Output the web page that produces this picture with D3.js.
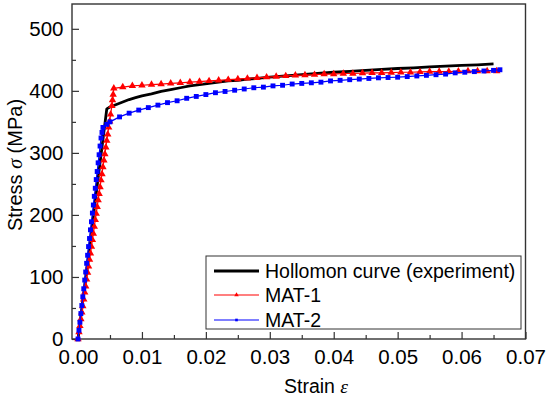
<!DOCTYPE html>
<html>
<head>
<meta charset="utf-8">
<script src="https://cdn.jsdelivr.net/npm/d3@7"></script>
<style>
  body { margin: 0; background: #fff; }
  svg { display: block; }
  text { font-family: "Liberation Sans", Arial, sans-serif; fill: #000; }
</style>
</head>
<body>
<div id="chart"></div>
<script>
// Hollomon curve (experiment): [strain, stress MPa]
const hollomon = [
  [0, 0], [0.0045, 371], [0.005, 374], [0.006, 378], [0.007, 382], [0.008, 386],
  [0.009, 389], [0.010, 392], [0.0115, 395], [0.013, 399], [0.0145, 402],
  [0.016, 405], [0.0175, 408], [0.019, 410], [0.0205, 412], [0.022, 414],
  [0.0235, 416], [0.025, 417], [0.0265, 419], [0.028, 420], [0.030, 422],
  [0.0325, 424], [0.035, 426], [0.0375, 428], [0.040, 430], [0.0425, 431.5],
  [0.045, 433], [0.0475, 434.5], [0.050, 436], [0.0525, 437], [0.055, 438.5],
  [0.0575, 440], [0.060, 441], [0.0625, 442], [0.065, 443.5]
];

// MAT-1 (red triangles)
const mat1 = [
  [0, 0], [0.00015, 11], [0.0003, 21], [0.00045, 32], [0.0006, 43], [0.00075, 53],
  [0.0009, 64], [0.00105, 75], [0.0012, 85], [0.00135, 96], [0.0015, 107],
  [0.00165, 117], [0.0018, 128], [0.00195, 138], [0.0021, 149], [0.00225, 160],
  [0.0024, 170], [0.00255, 181], [0.0027, 192], [0.00285, 202], [0.003, 213],
  [0.00315, 224], [0.0033, 234], [0.00345, 245], [0.0036, 256], [0.00375, 266],
  [0.0039, 277], [0.00405, 288], [0.0042, 298], [0.00435, 309], [0.0045, 320],
  [0.00465, 330], [0.0048, 341], [0.00495, 351], [0.0051, 362], [0.0053, 376],
  [0.0054, 385], [0.0055, 394], [0.0056, 404],
  [0.007, 406], [0.0085, 408], [0.010, 409], [0.0115, 410], [0.013, 411],
  [0.0145, 412], [0.016, 413], [0.0175, 414], [0.019, 415], [0.0205, 416],
  [0.022, 417], [0.0235, 418], [0.025, 419], [0.0265, 420], [0.028, 421],
  [0.0295, 422], [0.031, 423], [0.0325, 424], [0.034, 425], [0.0355, 425.5],
  [0.037, 426], [0.0385, 427], [0.040, 427], [0.0415, 428], [0.043, 428],
  [0.0445, 428.5], [0.046, 429], [0.0475, 429], [0.049, 429.5], [0.0505, 430],
  [0.052, 430], [0.0535, 430.5], [0.055, 431], [0.0565, 431], [0.058, 431],
  [0.0595, 431.5], [0.061, 432], [0.0625, 432], [0.064, 432], [0.0655, 432]
];

// MAT-2 (blue squares)
const mat2 = [
  [0, 0], [0.00015, 14], [0.0003, 27], [0.00045, 41], [0.0006, 54], [0.00075, 68],
  [0.0009, 81], [0.00105, 95], [0.0012, 108], [0.00135, 122], [0.0015, 135],
  [0.00165, 149], [0.0018, 162], [0.00195, 176], [0.0021, 189], [0.00225, 203],
  [0.0024, 216], [0.00255, 230], [0.0027, 243], [0.00285, 257], [0.003, 270],
  [0.00315, 284], [0.0033, 297], [0.00345, 311], [0.0036, 324], [0.00375, 333],
  [0.0039, 341],
  [0.0045, 346], [0.005, 350], [0.0065, 358], [0.008, 364], [0.0095, 369],
  [0.011, 373], [0.0125, 377], [0.014, 381], [0.0155, 384], [0.017, 388],
  [0.0185, 391], [0.020, 394], [0.0215, 397], [0.023, 399], [0.0245, 401],
  [0.026, 403], [0.0275, 405], [0.029, 406], [0.0305, 408], [0.032, 409],
  [0.0335, 411], [0.035, 412], [0.0365, 413], [0.038, 414], [0.0395, 416],
  [0.041, 417], [0.0425, 418], [0.044, 419], [0.0455, 420], [0.047, 421],
  [0.0485, 421.5], [0.050, 422], [0.0515, 423], [0.053, 424], [0.0545, 425],
  [0.056, 426], [0.0575, 427], [0.059, 429], [0.0605, 430], [0.062, 431],
  [0.0635, 432], [0.065, 433], [0.066, 434]
];

const xTicks = [0, 0.01, 0.02, 0.03, 0.04, 0.05, 0.06, 0.07];
const xMinor = [0.005, 0.015, 0.025, 0.035, 0.045, 0.055, 0.065];
const yTicks = [0, 100, 200, 300, 400, 500];
const yMinor = [50, 150, 250, 350, 450];

const legendNames = ['Hollomon curve (experiment)', 'MAT-1', 'MAT-2'];
const colors = ['#000000', '#ff0000', '#0000ff'];

const width = 550;
const height = 398;
const plot = { left: 72, right: 525.5, top: 4, bottom: 339 };

const svg = d3.select('#chart').append('svg')
    .attr('width', width)
    .attr('height', height);

svg.append('rect')
    .attr('width', width)
    .attr('height', height)
    .attr('fill', '#fff');

const xScale = d3.scaleLinear()
    .domain([-0.00094, 0.07])
    .range([plot.left, plot.right]);

const yScale = d3.scaleLinear()
    .domain([0, 540])
    .range([plot.bottom, plot.top]);

// minor ticks (inside)
svg.append('g')
    .attr('transform', `translate(0, ${plot.bottom})`)
    .call(d3.axisBottom(xScale).tickValues(xMinor).tickSize(-4).tickFormat(''))
    .call(g => g.select('.domain').remove());

svg.append('g')
    .attr('transform', `translate(${plot.left}, 0)`)
    .call(d3.axisLeft(yScale).tickValues(yMinor).tickSize(-4).tickFormat(''))
    .call(g => g.select('.domain').remove());

// major ticks + labels
const xAxis = svg.append('g')
    .attr('transform', `translate(0, ${plot.bottom})`)
    .call(d3.axisBottom(xScale).tickValues(xTicks).tickSize(-7).tickPadding(10.5)
      .tickFormat(d3.format('.2f')));
xAxis.select('.domain').remove();

const yAxis = svg.append('g')
    .attr('transform', `translate(${plot.left}, 0)`)
    .call(d3.axisLeft(yScale).tickValues(yTicks).tickSize(-7).tickPadding(8.5));
yAxis.select('.domain').remove();

svg.selectAll('.tick line')
    .attr('stroke', '#333')
    .attr('stroke-width', 1.2);

svg.selectAll('.tick text')
    .attr('font-size', '20.5px')
    .attr('fill', '#000');

// frame
svg.append('rect')
    .attr('x', plot.left)
    .attr('y', plot.top)
    .attr('width', plot.right - plot.left)
    .attr('height', plot.bottom - plot.top)
    .attr('fill', 'none')
    .attr('stroke', '#333')
    .attr('stroke-width', 1.4);

const line = d3.line()
    .x(d => xScale(d[0]))
    .y(d => yScale(d[1]));

const chartContainer = svg.append('g').attr('class', 'chart-container');

// Hollomon
chartContainer.append('path')
    .datum(hollomon)
    .attr('d', line)
    .attr('fill', 'none')
    .attr('stroke', colors[0])
    .attr('stroke-width', 2.8)
    .attr('stroke-linejoin', 'round');

// MAT-1
chartContainer.append('path')
    .datum(mat1)
    .attr('d', line)
    .attr('fill', 'none')
    .attr('stroke', colors[1])
    .attr('stroke-width', 1.2);

const triangle = d3.symbol().type(d3.symbolTriangle).size(24);
chartContainer.selectAll('.tri')
    .data(mat1)
  .enter().append('path')
    .attr('class', 'tri')
    .attr('d', triangle)
    .attr('transform', d => `translate(${xScale(d[0])}, ${yScale(d[1])})`)
    .attr('fill', colors[1]);

// MAT-2
chartContainer.append('path')
    .datum(mat2)
    .attr('d', line)
    .attr('fill', 'none')
    .attr('stroke', colors[2])
    .attr('stroke-width', 1.2);

const square = d3.symbol().type(d3.symbolSquare).size(24);
chartContainer.selectAll('.sq')
    .data(mat2)
  .enter().append('path')
    .attr('class', 'sq')
    .attr('d', square)
    .attr('transform', d => `translate(${xScale(d[0])}, ${yScale(d[1])})`)
    .attr('fill', colors[2]);

// axis titles
svg.append('text')
    .attr('x', 284)
    .attr('y', 393)
    .attr('font-size', '19.5px')
    .text('Strain ')
  .append('tspan')
    .attr('font-family', '"Liberation Serif", "Times New Roman", serif')
    .attr('font-style', 'italic')
    .text('ε');

const yTitle = svg.append('text')
    .attr('transform', 'translate(22, 165) rotate(-90)')
    .attr('text-anchor', 'middle')
    .attr('font-size', '20px');
yTitle.append('tspan').text('Stress ');
yTitle.append('tspan')
    .attr('font-family', '"Liberation Serif", "Times New Roman", serif')
    .attr('font-style', 'italic')
    .text('σ');
yTitle.append('tspan').text(' (MPa)');

// legend
const legend = svg.append('g').attr('class', 'legend');
legend.append('rect')
    .attr('x', 206)
    .attr('y', 256)
    .attr('width', 315)
    .attr('height', 73)
    .attr('fill', '#fff')
    .attr('stroke', '#333')
    .attr('stroke-width', 1);

const rowY = [271, 295, 320];
const item = legend.selectAll('.item')
    .data(legendNames)
  .enter().append('g')
    .attr('class', 'item')
    .attr('transform', (d, i) => `translate(0, ${rowY[i]})`);

item.append('line')
    .attr('x1', 214)
    .attr('x2', 259)
    .attr('y1', 0)
    .attr('y2', 0)
    .attr('stroke', (d, i) => colors[i])
    .attr('stroke-width', (d, i) => (i === 0 ? 2.8 : 1.2));

item.filter((d, i) => i > 0).append('path')
    .attr('d', (d, i) => (i === 0
      ? d3.symbol().type(d3.symbolTriangle).size(9)()
      : d3.symbol().type(d3.symbolSquare).size(7)()))
    .attr('transform', 'translate(236.5, 0)')
    .attr('fill', (d, i) => colors[i + 1]);

item.append('text')
    .attr('x', 265)
    .attr('dy', '0.35em')
    .attr('font-size', '19.5px')
    .text(d => d);
</script>
</body>
</html>
